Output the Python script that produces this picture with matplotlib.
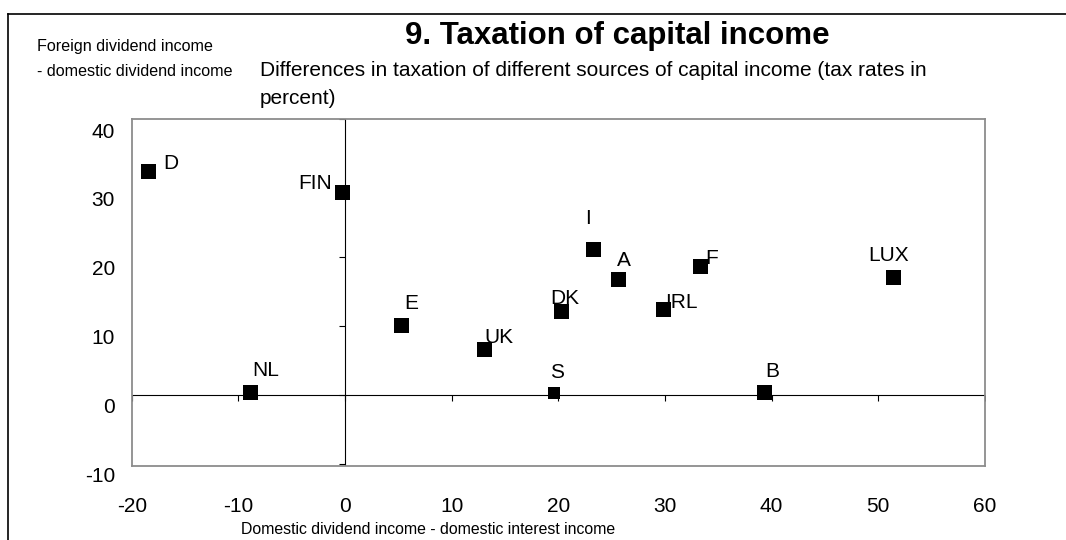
from matplotlib import pyplot as plt
from matplotlib.lines import Line2D
import matplotlib.transforms as mtransforms
import numpy as np

plt.rcParams['font.family'] = ['Liberation Sans', 'DejaVu Sans']
plt.rcParams['axes.unicode_minus'] = False

# tax rate differences, percentage points
countries = ["D", "FIN", "NL", "E", "UK", "S", "DK", "I", "A", "IRL", "F", "B", "LUX"]
dom_div_minus_interest = [-18.4, -0.2, -8.9, 5.3, 13.1, 19.6, 20.3, 23.3, 25.6, 29.9, 33.3, 39.3, 51.4]
foreign_minus_dom_div = [32.4, 29.4, 0.3, 10.1, 6.6, 0.2, 12.0, 21.1, 16.7, 12.3, 18.6, 0.3, 17.0]

xticks = [-20, -10, 0, 10, 20, 30, 40, 50, 60]
yticks = [-10, 0, 10, 20, 30, 40]

# label offsets in pixels (dx, dy) from each marker
label_offsets = {
    "D": (22, 8), "FIN": (-28, 9), "NL": (16, 22), "E": (10, 22),
    "UK": (14, 12), "S": (3, 21), "DK": (3, 13), "I": (-6, 31),
    "A": (6, 19), "IRL": (17, 7), "F": (11, 8), "B": (8, 21), "LUX": (-5, 22),
}

fig = plt.figure(figsize=(10.66, 5.40), dpi=100)
fig.patch.set_facecolor("white")

# outer frame: top and left edges only
fig.add_artist(Line2D([8/1066, 1], [1 - 14/540, 1 - 14/540], color="black", lw=1.2))
fig.add_artist(Line2D([8/1066, 8/1066], [0, 1 - 14/540], color="black", lw=1.2))

ax = fig.add_axes([131.7/1066, (540 - 466)/540, 853.3/1066, 347/540])
ax.set_xlim(-20, 60)
ax.set_ylim(-10.35, 40)
for sp in ax.spines.values():
    sp.set_color("#8c8c8c")
    sp.set_linewidth(1.3)

ax.axhline(0, color="black", lw=0.8, zorder=2)
ax.axvline(0, color="black", lw=0.8, zorder=2)
ax.plot(xticks, np.zeros(len(xticks)), ls="", marker=3, ms=4, mew=0.8, color="black", zorder=2)
ax.plot(np.zeros(len(yticks)), yticks, ls="", marker=0, ms=4, mew=0.8, color="black", zorder=2)

ax.set_xticks(xticks)
ax.set_yticks(yticks)
ax.tick_params(length=0, labelsize=15)
ax.tick_params(axis="x", pad=22)
ax.tick_params(axis="y", pad=12)
shift = mtransforms.ScaledTranslation(0, -11/100, fig.dpi_scale_trans)
for lab in ax.get_yticklabels():
    lab.set_transform(lab.get_transform() + shift)

sizes = [8.6 if c == "S" else 10.8 for c in countries]
ax.scatter(dom_div_minus_interest, foreign_minus_dom_div, s=np.array(sizes)**2,
           marker="s", color="black", linewidths=0, zorder=3)
for c, x, y in zip(countries, dom_div_minus_interest, foreign_minus_dom_div):
    dx, dy = label_offsets[c]
    ax.annotate(c, (x, y), xytext=(dx, dy), textcoords="offset pixels",
                ha="center", va="center", fontsize=15, zorder=4)

fig.text(617/1066, 1 - 36/540, "9. Taxation of capital income",
         ha="center", va="center", fontsize=22.5, fontweight="bold")
fig.text(260/1066, 1 - 70/540,
         "Differences in taxation of different sources of capital income (tax rates in",
         ha="left", va="center", fontsize=15)
fig.text(260/1066, 1 - 99/540, "percent)", ha="left", va="center", fontsize=15)
fig.text(37/1066, 1 - 46/540, "Foreign dividend income", ha="left", va="center", fontsize=11.6)
fig.text(37/1066, 1 - 72/540, "- domestic dividend income", ha="left", va="center", fontsize=11.6)
fig.text(428/1066, 1 - 530/540, "Domestic dividend income - domestic interest income",
         ha="center", va="center", fontsize=11.4)

fig.savefig("out.png", dpi=100, facecolor="white")
